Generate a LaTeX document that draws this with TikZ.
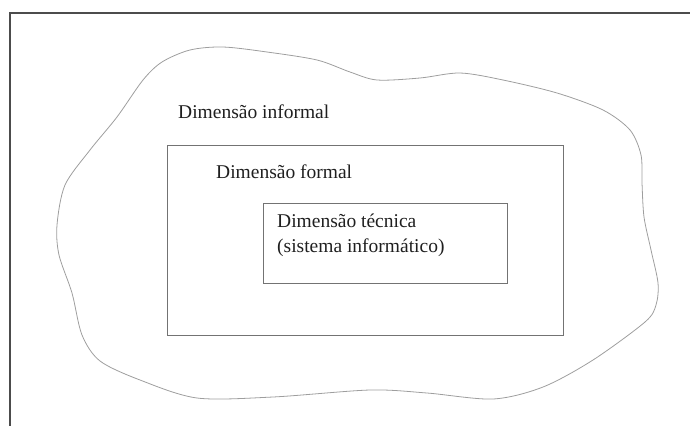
\documentclass[tikz,border=0pt]{standalone}
\usepackage{fontspec}
\setmainfont{Liberation Serif}
\begin{document}
\begin{tikzpicture}[x=1pt,y=-1pt,
  frameline/.style={draw=black!70,line width=1.6pt},
  boxline/.style={draw=black!55,line width=0.9pt},
  blobline/.style={draw=black!38,line width=0.8pt},
  label/.style={font=\fontsize{19.5}{25}\selectfont,text=black!88,inner sep=0pt,anchor=base west}]
\useasboundingbox (0,0) rectangle (690,426);
% page frame (top and left edges only)
\coordinate (ftl) at (10,13);
\coordinate (ftr) at (690,13);
\coordinate (fbl) at (10,426);
\draw[frameline] (ftr) -- (ftl) -- (fbl);
% informal dimension: irregular closed outline
\draw[blobline] plot[smooth cycle,tension=0.5] coordinates {
  (57,225) (65,185) (90,150) (117,117) (143,80) (162,62) (190,50) (223,47)
  (267,52) (317,60) (350,72) (377,80) (420,78) (460,73) (503,80) (557,93)
  (603,110) (630,130) (641,155) (642,183) (644,217) (651,250) (658,283)
  (656,305) (645,322) (593,360) (543,387) (493,399) (427,393) (370,390)
  (273,397) (197,398) (140,380) (100,361) (82,335) (72,293) (59,255)};
% formal and technical dimensions
\node[boxline,minimum width=396pt,minimum height=190pt,anchor=north west,inner sep=0pt] (formal) at (167,145) {};
\node[boxline,minimum width=244pt,minimum height=80pt,anchor=north west,inner sep=0pt] (tecnica) at (263,203) {};
% labels
\node[label] (tinf) at (178,118) {Dimensão informal};
\node[label] (tfor) at (216,178) {Dimensão formal};
\node[label,align=left,anchor=north west] (ttec) at (277,214) {Dimensão técnica\\(sistema informático)};
\end{tikzpicture}
\end{document}
